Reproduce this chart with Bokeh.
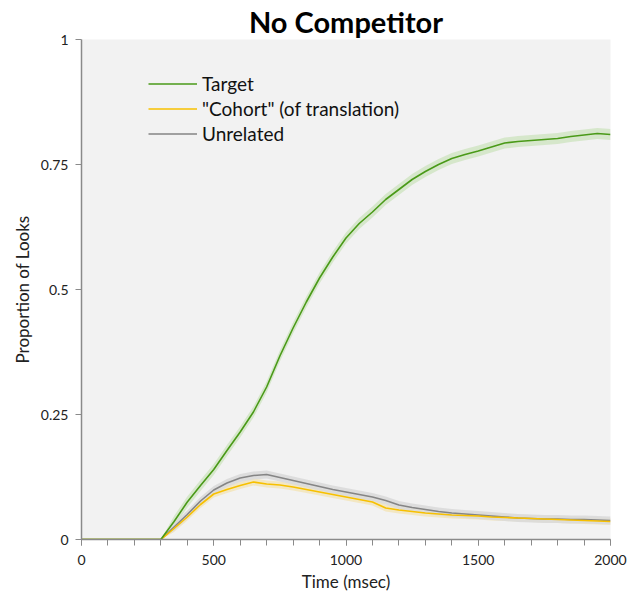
from bokeh.plotting import figure
from bokeh.models import Range1d, FixedTicker, Legend, LegendItem
from bokeh.embed import file_html
from bokeh.resources import INLINE

time_ms = [0, 100, 200, 300, 350, 400, 450, 500, 550, 600, 650, 700, 750, 800, 850, 900,
           950, 1000, 1050, 1100, 1150, 1200, 1250, 1300, 1350, 1400, 1450, 1500,
           1550, 1600, 1650, 1700, 1750, 1800, 1850, 1900, 1950, 2000]

target = [0, 0, 0, 0, 0.036, 0.075, 0.108, 0.14, 0.178, 0.215, 0.255, 0.305, 0.367,
          0.423, 0.475, 0.523, 0.565, 0.603, 0.632, 0.655, 0.68, 0.70, 0.72, 0.736,
          0.75, 0.762, 0.77, 0.777, 0.785, 0.793, 0.796, 0.798, 0.800, 0.802, 0.806,
          0.809, 0.812, 0.810]

cohort = [0, 0, 0, 0, 0.022, 0.045, 0.07, 0.091, 0.10, 0.108, 0.115, 0.111, 0.109,
          0.105, 0.10, 0.095, 0.09, 0.085, 0.08, 0.075, 0.063, 0.059, 0.056, 0.053,
          0.051, 0.049, 0.048, 0.047, 0.045, 0.044, 0.043, 0.042, 0.041, 0.040,
          0.039, 0.038, 0.037, 0.036]

unrelated = [0, 0, 0, 0, 0.025, 0.05, 0.077, 0.099, 0.113, 0.123, 0.128, 0.13, 0.124,
             0.118, 0.112, 0.106, 0.10, 0.095, 0.09, 0.085, 0.078, 0.069, 0.064, 0.06,
             0.056, 0.053, 0.051, 0.049, 0.047, 0.045, 0.043, 0.042, 0.041, 0.041,
             0.040, 0.040, 0.039, 0.038]

target_se = 0.011
cohort_se = 0.007
unrelated_se = 0.008

series_names = ["Target", "\"Cohort\" (of translation)", "Unrelated"]
y_ticks = [0, 0.25, 0.5, 0.75, 1]
y_tick_labels = ["0", "0.25", "0.5", "0.75", "1"]
x_ticks = [0, 500, 1000, 1500, 2000]
x_minor = list(range(0, 2001, 100))

FONT = "Lato"

p = figure(frame_width=529, frame_height=500, output_backend="svg", toolbar_location=None,
           x_range=Range1d(0, 2000), y_range=Range1d(0, 1),
           min_border_left=81, min_border_right=24, min_border_top=30,
           min_border_bottom=50)

p.background_fill_color = "#f2f2f2"
p.border_fill_color = "white"
p.outline_line_color = None
p.grid.visible = False

p.title.text = "No Competitor"
p.title.align = "center"
p.title.text_font = FONT
p.title.text_font_style = "bold"
p.title.text_font_size = "29px"
p.title.text_color = "black"
p.title.standoff = 2

colors = ["#4a9a18", "#f7c000", "#858585"]
bands = ["#d3e6c6", "#f3e6bd", "#dadada"]
vals = [target, cohort, unrelated]
ses = [target_se, cohort_se, unrelated_se]

for v, se, bc in zip(vals, ses, bands):
    lo = [max(0, a - se) if a > 0 else 0 for a in v]
    hi = [a + se if a > 0 else 0 for a in v]
    p.varea(x=time_ms, y1=lo, y2=hi, fill_color=bc, fill_alpha=0.9)

renderers = []
for v, c in zip(vals[::-1], colors[::-1]):
    r = p.line(time_ms, v, line_color=c, line_width=1.6)
    renderers.append(r)
renderers = renderers[::-1]

legend = Legend(items=[LegendItem(label=n, renderers=[r]) for n, r in zip(series_names, renderers)],
                location=(67, 393))
legend.background_fill_alpha = 0
legend.border_line_color = None
legend.label_text_font = FONT
legend.label_text_font_size = "19px"
legend.label_text_color = "#111111"
legend.glyph_width = 49
legend.glyph_height = 25
legend.label_height = 25
legend.spacing = 0
legend.padding = 0
legend.margin = 0
legend.label_standoff = 5
p.add_layout(legend, "center")

# axes
p.xaxis.ticker = FixedTicker(ticks=x_ticks, minor_ticks=x_minor)
p.yaxis.ticker = FixedTicker(ticks=y_ticks)
p.yaxis.major_label_overrides = {t: l for t, l in zip(y_ticks, y_tick_labels)}

for ax in (p.xaxis, p.yaxis):
    ax.axis_line_color = "#8a8a8a"
    ax.axis_line_width = 1.5
    ax.major_tick_line_color = "#8a8a8a"
    ax.minor_tick_line_color = "#8a8a8a"
    ax.major_tick_in = 0
    ax.major_tick_out = 6
    ax.minor_tick_in = 0
    ax.minor_tick_out = 6
    ax.major_label_text_font = FONT
    ax.major_label_text_font_size = "14px"
    ax.major_label_text_color = "#222222"
    ax.axis_label_text_font = FONT
    ax.axis_label_text_font_size = "17px"
    ax.axis_label_text_font_style = "normal"
    ax.axis_label_text_color = "#222222"

p.yaxis.minor_tick_out = 0
p.xaxis.axis_label = "Time (msec)"
p.yaxis.axis_label = "Proportion of Looks"
p.xaxis.major_label_standoff = 9
p.yaxis.major_label_standoff = 7
p.xaxis.axis_label_standoff = 3
p.yaxis.axis_label_standoff = 5

open("out.html", "w").write(file_html(p, INLINE))
